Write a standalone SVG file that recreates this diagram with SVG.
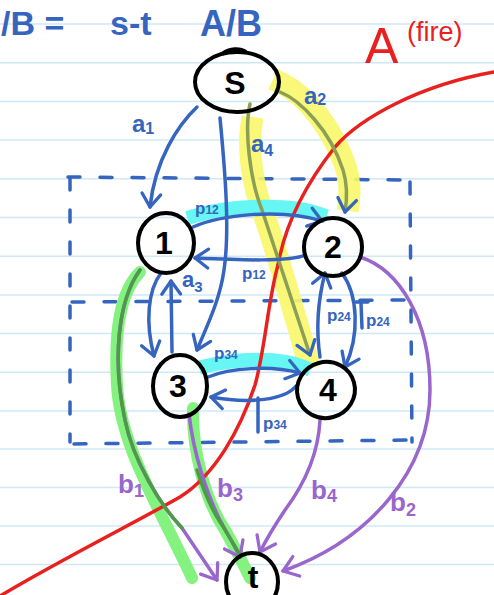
<svg xmlns="http://www.w3.org/2000/svg" width="494" height="595" viewBox="0 0 494 595">
<style>
.rule{stroke:#cfe8f7;stroke-width:1.5}
.node{fill:none;stroke:#000;stroke-width:4}
.ntxt{font-family:"Liberation Sans",Arial,sans-serif;font-size:32px;font-weight:bold;fill:#000;text-anchor:middle}
.blue{fill:none;stroke:#3565be;stroke-width:3.5;stroke-linecap:round;stroke-linejoin:round}
.olive{fill:none;stroke:#8c9f55;stroke-width:3.5;stroke-linecap:round}
.purple{fill:none;stroke:#9966cc;stroke-width:3.5;stroke-linecap:round}
.dkgreen{fill:none;stroke:#4f9a48;stroke-width:3.5;stroke-linecap:round}
.hlY{fill:none;stroke:#f9f76a;stroke-width:22;stroke-linecap:square;opacity:.9}
.hlC{fill:none;stroke:#66f6f4;stroke-width:14;stroke-linecap:square}
.hlG{fill:none;stroke:#84f27e;stroke-width:12;stroke-linecap:round}
.lb{font-family:"Liberation Sans",Arial,sans-serif;font-weight:bold;fill:#3565be}
.lp{font-family:"Liberation Sans",Arial,sans-serif;font-weight:bold;fill:#9966cc}
.dash{fill:none;stroke:#3565be;stroke-width:3.5;stroke-dasharray:12 20;stroke-linecap:round}
.red{fill:none;stroke:#e8211f;stroke-width:3.5;stroke-linecap:round}
</style>
<defs>
<marker id="ab" markerUnits="userSpaceOnUse" markerWidth="30" markerHeight="30" refX="0" refY="0" viewBox="-16 -15 32 30" orient="auto" overflow="visible">
<path d="M-14,-10 L0,0 L-14,10" fill="none" stroke="#3565be" stroke-width="3.5" stroke-linecap="round" stroke-linejoin="round"/>
</marker>
<marker id="ap" markerUnits="userSpaceOnUse" markerWidth="30" markerHeight="30" refX="0" refY="0" viewBox="-16 -15 32 30" orient="auto" overflow="visible">
<path d="M-15,-11 L0,0 L-15,11" fill="none" stroke="#9966cc" stroke-width="3.5" stroke-linecap="round" stroke-linejoin="round"/>
</marker>
</defs>
<rect width="494" height="595" fill="#fff"/>
<g id="ruling">
<line class="rule" x1="0" y1="24" x2="494" y2="24"/>
<line class="rule" x1="0" y1="62.7" x2="494" y2="62.7"/>
<line class="rule" x1="0" y1="101.4" x2="494" y2="101.4"/>
<line class="rule" x1="0" y1="140.1" x2="494" y2="140.1"/>
<line class="rule" x1="0" y1="178.8" x2="494" y2="178.8"/>
<line class="rule" x1="0" y1="217.5" x2="494" y2="217.5"/>
<line class="rule" x1="0" y1="256.2" x2="494" y2="256.2"/>
<line class="rule" x1="0" y1="294.9" x2="494" y2="294.9"/>
<line class="rule" x1="0" y1="333.6" x2="494" y2="333.6"/>
<line class="rule" x1="0" y1="372.3" x2="494" y2="372.3"/>
<line class="rule" x1="0" y1="411" x2="494" y2="411"/>
<line class="rule" x1="0" y1="449" x2="494" y2="449"/>
<line class="rule" x1="0" y1="487.5" x2="494" y2="487.5"/>
<line class="rule" x1="0" y1="526" x2="494" y2="526"/>
<line class="rule" x1="0" y1="564.5" x2="494" y2="564.5"/>
</g>
<g id="title">
<text x="1" y="35" class="lb" font-size="34" font-weight="normal">/B =</text>
<text x="110" y="35" class="lb" font-size="34" font-weight="normal">s-t</text>
<text x="200" y="36" class="lb" font-size="36" font-weight="normal">A/B</text>
</g>
<g id="cut-box">
<path class="dash" d="M70,178 L70,442"/>
<path class="dash" d="M68,177 L410,180"/>
<path class="dash" d="M410,182 L412,442"/>
<path class="dash" d="M74,444 L415,440"/>
<path class="dash" d="M72,302 L410,300"/>
</g>
<g id="highlights">
<path class="hlY" d="M283,84 C305,95 333,128 346,168 C350,182 350,192 349,200"/>
<path class="hlY" d="M251,128 C248,150 252,185 264,215 C278,255 292,305 307,358"/>
<path class="hlC" d="M194,216 C230,205 290,203 320,214"/>
<path class="hlC" d="M206,366 C240,358 280,357 304,367"/>
<path class="hlG" d="M140,272 C120,292 114,330 117,385 C120,445 158,505 192,578"/>
<path class="hlG" d="M193,408 C192,450 205,500 225,530 C236,550 244,565 250,578"/>
</g>
<g id="red-cut">
<path class="red" d="M0,596 C60,560 140,520 180,497 C215,475 240,430 255,385 C265,350 268,300 278,265 C285,225 305,185 335,147 C360,118 420,85 494,72"/>
<text x="365" y="63" font-family="'Liberation Sans',Arial,sans-serif" font-size="50" fill="#e8211f">A</text>
<text x="407" y="41" font-family="'Liberation Sans',Arial,sans-serif" font-size="27" fill="#e8211f">(fire)</text>
</g>
<g id="connectors">
<path id="a1" class="blue" d="M197,107 C178,125 155,160 150,207" marker-end="url(#ab)"/>
<text class="lb" x="132" y="132" font-size="24">a<tspan font-size="16" dy="2">1</tspan></text>
<path id="a3" class="blue" d="M220,118 C225,170 230,230 224,270 C220,300 206,328 197,350" marker-end="url(#ab)"/>
<text class="lb" x="182" y="287" font-size="22">a<tspan font-size="15" dy="5">3</tspan></text>
<path id="a2" class="olive" d="M280,92 C300,100 330,130 343,170 C348,186 347,200 345,212" marker-end="url(#ab)"/>
<text class="lb" x="304" y="104" font-size="24">a<tspan font-size="16" dy="1">2</tspan></text>
<path id="a4" class="olive" d="M250,104 C244,130 250,180 262,210 C275,250 292,300 310,355" marker-end="url(#ab)"/>
<text class="lb" x="251" y="152" font-size="24">a<tspan font-size="16" dy="4">4</tspan></text>
<path id="e13" class="blue" d="M161,273 C148,290 145,322 154,356" marker-end="url(#ab)"/>
<path id="e31" class="blue" d="M172,352 L171,281" marker-end="url(#ab)"/>
<path id="p12a" class="blue" d="M193,227 C220,215 280,208 322,221" marker-end="url(#ab)"/>
<text class="lb" x="195" y="214" font-size="17">p<tspan font-size="12">12</tspan></text>
<path id="p12b" class="blue" d="M305,255 C290,262 240,260 195,258" marker-end="url(#ab)"/>
<text class="lb" x="242" y="279" font-size="17">p<tspan font-size="12">12</tspan></text>
<path id="p24a" class="blue" d="M320,357 C316,330 318,300 325,273" marker-end="url(#ab)"/>
<text class="lb" x="327" y="321" font-size="17">p<tspan font-size="12">24</tspan></text>
<path id="p24b" class="blue" d="M342,273 C358,295 360,335 345,367" marker-end="url(#ab)"/>
<path class="blue" d="M356,302 L368,302 M361,303 L362,328" stroke-width="3"/>
<text class="lb" x="366" y="326" font-size="17">p<tspan font-size="12">24</tspan></text>
<path id="p34a" class="blue" d="M208,377 C230,368 270,365 300,373" marker-end="url(#ab)"/>
<text class="lb" x="214" y="359" font-size="17">p<tspan font-size="12">34</tspan></text>
<path id="p34b" class="blue" d="M296,386 C285,400 250,404 211,397" marker-end="url(#ab)"/>
<path class="blue" d="M258,398 L258,432" stroke-width="3"/>
<text class="lb" x="263" y="429" font-size="17">p<tspan font-size="12">34</tspan></text>
<path id="b1" class="purple" d="M140,270 C118,300 112,360 125,420 C133,460 160,505 182,528 L217,580" marker-end="url(#ap)"/>
<path class="dkgreen" d="M140,270 C118,300 112,360 125,420 C133,460 160,505 182,528"/>
<text class="lp" x="118" y="493" font-size="26">b<tspan font-size="18" dy="4">1</tspan></text>
<path id="b3" class="purple" d="M189,414 C193,450 205,490 220,520 C228,535 234,545 240,557" marker-end="url(#ap)"/>
<path class="dkgreen" d="M197,470 C205,495 213,512 222,525 C230,538 235,546 240,555"/>
<text class="lp" x="217" y="497" font-size="26">b<tspan font-size="18" dy="4">3</tspan></text>
<path id="b4" class="purple" d="M320,420 C318,460 300,490 285,510 C275,525 266,540 260,552" marker-end="url(#ap)"/>
<text class="lp" x="311" y="499" font-size="26">b<tspan font-size="18" dy="3">4</tspan></text>
<path id="b2" class="purple" d="M360,257 C400,270 430,320 430,390 C430,470 370,540 283,571" marker-end="url(#ap)"/>
<text class="lp" x="390" y="511" font-size="26">b<tspan font-size="18" dy="5">2</tspan></text>
</g>
<g id="node-s"><ellipse class="node" cx="237" cy="82" rx="42" ry="30"/><path d="M222,54 C230,48 240,48 246,52" fill="none" stroke="#000" stroke-width="4"/><text class="ntxt" x="235" y="94" font-size="34">S</text></g>
<g id="node-1"><ellipse class="node" cx="166" cy="243" rx="28" ry="30"/><text class="ntxt" x="164" y="254">1</text></g>
<g id="node-2"><ellipse class="node" cx="333" cy="247" rx="29" ry="29"/><text class="ntxt" x="333" y="258">2</text></g>
<g id="node-3"><ellipse class="node" cx="180" cy="386" rx="27" ry="31"/><text class="ntxt" x="178" y="397">3</text></g>
<g id="node-4"><ellipse class="node" cx="326" cy="390" rx="29" ry="28" transform="rotate(-15 326 390)"/><text class="ntxt" x="328" y="401">4</text></g>
<g id="node-t"><ellipse class="node" cx="252" cy="582" rx="26" ry="29"/><text class="ntxt" x="253" y="588" font-size="22">t</text></g>
</svg>
